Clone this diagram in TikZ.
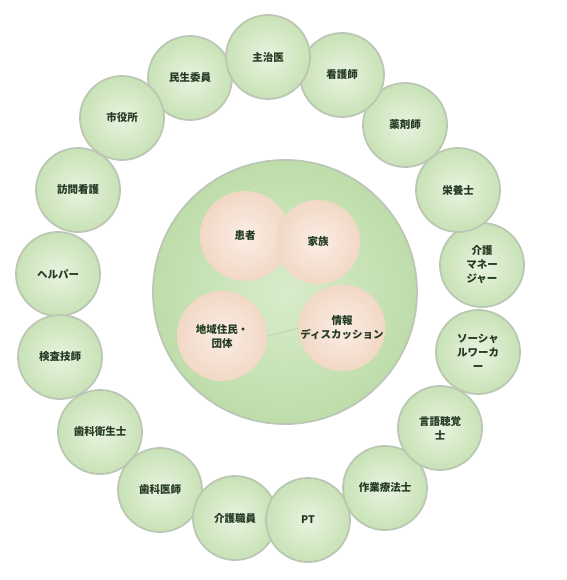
\documentclass[tikz,border=0pt]{standalone}
\usepackage{fontspec}
\newfontfamily\jp{Noto Sans CJK JP}
\definecolor{ringfill}{HTML}{C8E2B6}
\definecolor{ringlight}{HTML}{E8F3E0}
\definecolor{ringedge}{HTML}{BCC6B5}
\definecolor{corefill}{HTML}{BEDDAA}
\definecolor{corelight}{HTML}{D8ECCB}
\definecolor{subfill}{HTML}{F2D8C6}
\definecolor{sublight}{HTML}{FBEDE4}
\definecolor{txt}{HTML}{233A23}
\begin{document}
\begin{tikzpicture}[x=1pt,y=-1pt,
  ring/.style={circle, minimum size=84pt, inner sep=0pt, draw=ringedge, line width=1.8pt,
    inner color=ringlight, outer color=ringfill, text=txt,
    font=\jp\bfseries\fontsize{10.5}{14}\selectfont, align=center},
  core/.style={circle, minimum size=264pt, inner sep=0pt, draw=ringedge, line width=1.8pt,
    inner color=corelight, outer color=corefill},
  sub/.style={circle, inner sep=0pt, inner color=sublight, outer color=subfill, text=txt,
    font=\jp\bfseries\fontsize{10.5}{14}\selectfont, align=center},
  link/.style={draw=txt!50, dotted, line width=0.8pt}]
\useasboundingbox (0,0) rectangle (566,580);
% ring
\node[ring] (r17) at (190,78) {民生委員};
\node[ring] (r16) at (122,118) {市役所};
\node[ring] (r15) at (78,190) {訪問看護};
\node[ring] (r14) at (58,274) {ヘルパー};
\node[ring] (r13) at (60,357) {検査技師};
\node[ring] (r12) at (100,432) {歯科衛生士};
\node[ring] (r11) at (160,490) {歯科医師};
\node[ring] (r10) at (235,518) {介護職員};
\node[ring] (r9) at (308,520) {PT};
\node[ring] (r8) at (385,488) {作業療法士};
\node[ring] (r7) at (440,428) {言語聴覚\\士};
\node[ring] (r6) at (478,352) {ソーシャ\\ルワーカ\\ー};
\node[ring] (r5) at (482,265) {介護\\マネー\\ジャー};
\node[ring] (r4) at (458,190) {栄養士};
\node[ring] (r3) at (405,125) {薬剤師};
\node[ring] (r2) at (342,75) {看護師};
\node[ring] (r1) at (268,57) {主治医};
% core
\node[core] (core) at (285,292) {};
\node[sub, minimum size=90pt] (pat) at (245,236) {患者};
\node[sub, minimum size=84pt] (fam) at (318,242) {家族};
\node[sub, minimum size=90pt] (comm) at (222,336) {地域住民・\\団体};
\node[sub, minimum size=84pt] (info) at (342,328) {情報\\ディスカッション};
\draw[link] (comm.east) -- (info.west);
\end{tikzpicture}
\end{document}
